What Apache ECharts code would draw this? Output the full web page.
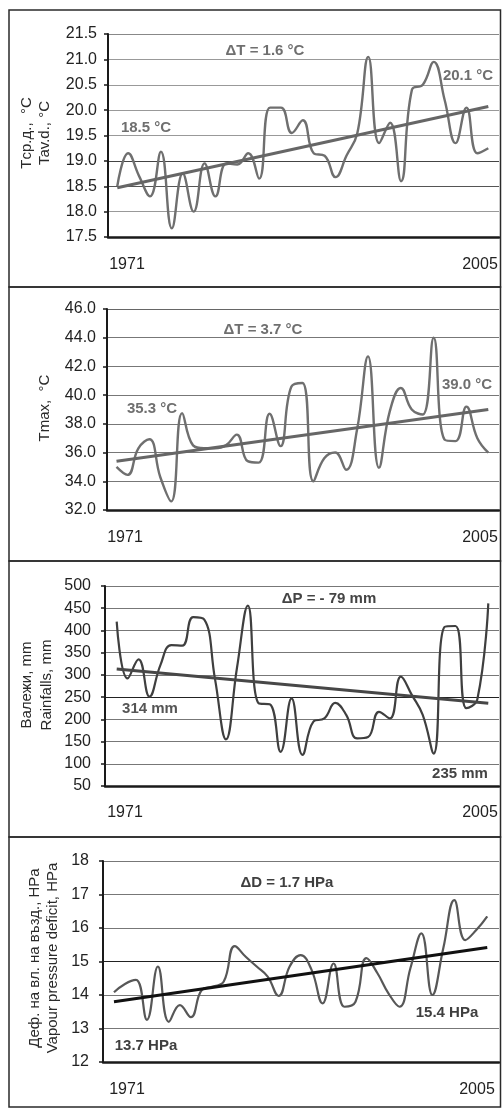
<!DOCTYPE html>
<html>
<head>
<meta charset="utf-8">
<script src="https://cdn.jsdelivr.net/npm/echarts@6/dist/echarts.min.js"></script>
<style>
html,body{margin:0;padding:0;background:#fff;}
#c{width:503px;height:1108px;}
</style>
</head>
<body>
<div id="c"></div>
<script>
// ---------- DATA ----------
const years = [1971,1972,1973,1974,1975,1976,1977,1978,1979,1980,1981,1982,1983,1984,1985,1986,1987,1988,1989,1990,1991,1992,1993,1994,1995,1996,1997,1998,1999,2000,2001,2002,2003,2004,2005];
const yearLabels = ['1971','2005'];
const trendYears = [1971, 2005];

const tAvg = [18.5,19.15,18.7,18.3,19.18,17.67,18.75,18.0,18.95,18.3,18.95,18.93,19.15,18.65,20.05,20.05,19.55,19.8,19.15,19.1,18.68,19.1,19.55,21.05,19.35,19.75,18.6,20.4,20.5,20.95,20.2,19.35,20.05,19.15,19.25];
const tAvgTrend = [18.47, 20.07];

const tMax = [35.0,34.45,36.3,36.93,34.3,32.6,38.75,36.5,36.3,36.3,36.5,37.25,35.4,35.3,38.7,36.45,40.6,40.85,34.0,35.6,36.0,34.8,37.6,42.7,34.95,38.9,40.5,39.0,38.65,44.0,36.9,36.8,39.2,37.0,36.0];
const tMaxTrend = [35.4, 39.0];

const rain = [420,292,335,251,322,367,366,430,425,290,155,315,456,236,234,127,247,120,195,202,237,210,157,160,217,202,296,255,210,123,408,410,225,245,461];
const rainTrend = [313, 236];

const vpd = [14.08,14.33,14.45,13.26,14.85,13.2,13.7,13.34,14.15,14.25,14.4,15.46,15.14,14.85,14.55,13.97,14.85,15.19,14.75,13.75,14.94,13.65,13.8,15.1,14.65,14.05,13.65,14.8,15.84,14.0,15.4,16.83,15.64,15.94,16.35];
const vpdTrend = [13.8, 15.42];

const yTicks = [
  {min:17.5, max:21.5, interval:0.5, dec:1},
  {min:32, max:46, interval:2, dec:1},
  {min:50, max:500, interval:50, dec:0},
  {min:12, max:18, interval:1, dec:0}
];
const axisTitles = [
  'Tср.д.,  °C\nTav.d., °C',
  'Tmax,  °C',
  'Валежи, mm\nRainfalls, mm',
  'Деф. на вл. на възд., HPa\nVapour pressure deficit, HPa'
];
const annotations = [
  ['ΔT = 1.6 °C', '18.5 °C', '20.1 °C'],
  ['ΔT = 3.7 °C', '35.3 °C', '39.0 °C'],
  ['ΔP = - 79 mm', '314 mm', '235 mm'],
  ['ΔD = 1.7 HPa', '13.7 HPa', '15.4 HPa']
];
const seriesData = [tAvg, tMax, rain, vpd];
const trendData = [tAvgTrend, tMaxTrend, rainTrend, vpdTrend];

// ---------- LAYOUT / STYLE ----------
const FONT = '"Liberation Sans", Arial, sans-serif';
const layout = [
  {top:34, bottom:237, left:108, xmin:1970.15, xmax:2005.98, lblMargin:11, panelTop:10, panelBot:287,
   lineColor:'#6f6f6f', trendColor:'#666666', lineW:2.4, trendW:3, annColor:'#6f6f6f',
   titleX:36, titleY:133, titleLH:18, yearY:265, yearX:[127,480],
   ann:[[265,51],[146,128],[468,76]], annColor2:['#6f6f6f','#6f6f6f','#6f6f6f'],
   gridColors:['#888','#999','#555','#444','#999','#999','#999','#999']},
  {top:309, bottom:510, left:107, xmin:1970.13, xmax:2005.98, lblMargin:11, panelTop:287, panelBot:561,
   lineColor:'#6f6f6f', trendColor:'#666666', lineW:2.4, trendW:3,
   titleX:45, titleY:408, titleLH:18, yearY:538, yearX:[125,480],
   ann:[[263,330],[152,409],[467,385]], annColor2:['#6f6f6f','#6f6f6f','#6f6f6f'],
   gridColors:['#666','#777','#777','#777','#777','#777','#777']},
  {top:586, bottom:786, left:105, xmin:1969.93, xmax:2005.98, lblMargin:14, panelTop:561, panelBot:837,
   lineColor:'#3f3f3f', trendColor:'#474747', lineW:2.2, trendW:3,
   titleX:37, titleY:685, titleLH:20, yearY:813, yearX:[125,480],
   ann:[[329,599],[150,709],[460,774]], annColor2:['#444','#555','#444'],
   gridColors:['#777','#777','#777','#777','#222','#777','#777','#777','#777']},
  {top:861, bottom:1062, left:103, xmin:1970.0, xmax:2006.07, lblMargin:14, panelTop:837, panelBot:1107,
   lineColor:'#575757', trendColor:'#111111', lineW:2.2, trendW:3,
   titleX:44, titleY:958, titleLH:18, yearY:1090, yearX:[127,477],
   ann:[[287,883],[146,1046],[447,1013]], annColor2:['#3f3f3f','#3f3f3f','#3f3f3f'],
   gridColors:['#777','#777','#777','#222','#777','#777']}
];
const RIGHT = 499;

const grids = [], xAxes = [], yAxes = [], series = [], graphics = [];
layout.forEach((L, i) => {
  grids.push({left:L.left, top:L.top, width:RIGHT-L.left, height:L.bottom-L.top, containLabel:false});
  xAxes.push({
    type:'value', gridIndex:i, min:L.xmin, max:L.xmax,
    axisLine:{show:true, onZero:false, lineStyle:{color:'#1a1a1a', width:2.5}},
    axisTick:{show:false}, axisLabel:{show:false}, splitLine:{show:false}
  });
  const t = yTicks[i];
  yAxes.push({
    type:'value', gridIndex:i, min:t.min, max:t.max, interval:t.interval,
    axisLine:{show:true, lineStyle:{color:'#1a1a1a', width:2}},
    axisTick:{show:true, inside:false, length:4, lineStyle:{color:'#1a1a1a', width:1.5}},
    axisLabel:{fontFamily:FONT, fontSize:16, color:'#222', margin:L.lblMargin,
      formatter: v => v.toFixed(t.dec)},
    splitLine:{show:true, lineStyle:{color:L.gridColors, width:1}}
  });
  series.push({
    type:'line', xAxisIndex:i, yAxisIndex:i, smooth:0.45, showSymbol:false, symbol:'none',
    data: years.map((y, k) => [y, seriesData[i][k]]),
    lineStyle:{color:L.lineColor, width:L.lineW}, z:3, animation:false
  });
  series.push({
    type:'line', xAxisIndex:i, yAxisIndex:i, showSymbol:false, symbol:'none',
    data: trendYears.map((y, k) => [y, trendData[i][k]]),
    lineStyle:{color:L.trendColor, width:L.trendW}, z:4, animation:false
  });
  // panel border
  graphics.push({type:'rect', shape:{x:9, y:L.panelTop, width:491.5, height:L.panelBot-L.panelTop},
    style:{fill:'none', stroke:'#2a2a2a', lineWidth:1.5}, z:1});
  // axis title (rotated)
  graphics.push({type:'text', x:L.titleX, y:L.titleY, rotation:Math.PI/2,
    style:{text:axisTitles[i], font:'15px '+FONT, fill:'#2a2a2a', textAlign:'center', textVerticalAlign:'middle', lineHeight:L.titleLH}, z:10});
  // year labels
  yearLabels.forEach((lab, k) => {
    graphics.push({type:'text', x:L.yearX[k], y:L.yearY,
      style:{text:lab, font:'16px '+FONT, fill:'#222', textAlign:'center', textVerticalAlign:'middle'}, z:10});
  });
  // annotations
  annotations[i].forEach((txt, k) => {
    graphics.push({type:'text', x:L.ann[k][0], y:L.ann[k][1],
      style:{text:txt, font:'bold 15px '+FONT, fill:L.annColor2[k], textAlign:'center', textVerticalAlign:'middle'}, z:10});
  });
});

const chart = echarts.init(document.getElementById('c'), null, {renderer:'canvas', width:503, height:1108});
chart.setOption({
  animation:false,
  backgroundColor:'#ffffff',
  grid:grids, xAxis:xAxes, yAxis:yAxes, series:series, graphic:graphics
});
</script>
</body>
</html>
